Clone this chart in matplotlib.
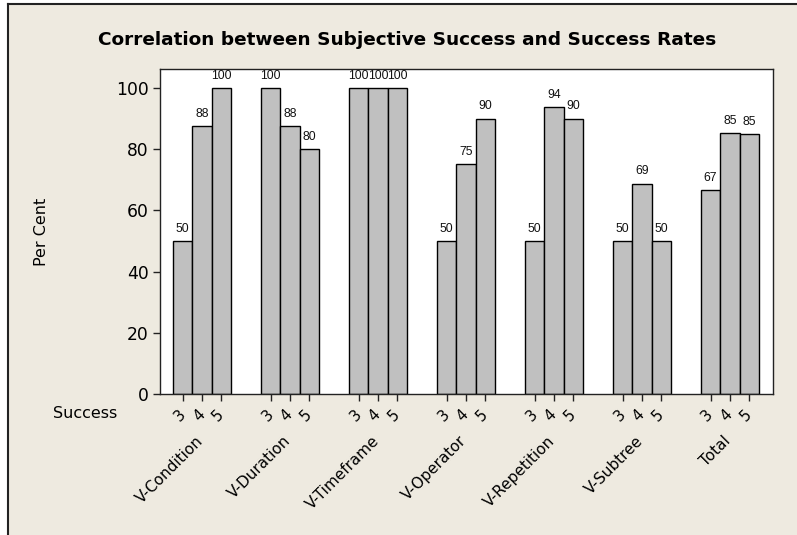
"""
Correlation between Subjective Success and Success Rates (Minitab-style clustered bars)
"""

import matplotlib
matplotlib.use("Agg")
import matplotlib.pyplot as plt
from matplotlib.patches import Rectangle
from matplotlib.lines import Line2D
from matplotlib.transforms import blended_transform_factory, ScaledTranslation

# ─── data ──────────────────────────────────────────────────────────────────
categories = ["V-Condition", "V-Duration", "V-Timeframe", "V-Operator",
              "V-Repetition", "V-Subtree", "Total"]
success_levels = ["3", "4", "5"]
per_cent = [
    [50, 87.5, 100],      # V-Condition
    [100, 87.5, 80],      # V-Duration
    [100, 100, 100],      # V-Timeframe
    [50, 75, 90],         # V-Operator
    [50, 93.75, 90],      # V-Repetition
    [50, 68.75, 50],      # V-Subtree
    [66.7, 85.4, 84.9],   # Total
]
y_ticks = [0, 20, 40, 60, 80, 100]
title = "Correlation between Subjective Success and Success Rates"
# ───────────────────────────────────────────────────────────────────────────

W, H = 797, 535
BEIGE = "#EEEAE0"
BAR = "#C0C0C0"
FONT = "DejaVu Sans"
VALFONT = "Liberation Sans"

fig = plt.figure(figsize=(W / 100, H / 100), dpi=100, facecolor="white")

# beige panel with left/top border
fig.patches.append(Rectangle((8 / W, 0), 1 - 8 / W, 1 - 4 / H,
                             transform=fig.transFigure, facecolor=BEIGE,
                             edgecolor="none", zorder=-5))
fig.lines.append(Line2D([8 / W, 8 / W], [0, 1 - 4 / H], transform=fig.transFigure,
                        color="#222222", lw=1.5, zorder=-4))
fig.lines.append(Line2D([8 / W, 1], [1 - 4 / H, 1 - 4 / H], transform=fig.transFigure,
                        color="#222222", lw=1.5, zorder=-4))

ax_l, ax_r, ax_t, ax_b = 160, 773, 69, 394
ax = fig.add_axes([ax_l / W, 1 - ax_b / H, (ax_r - ax_l) / W, (ax_b - ax_t) / H])
ax.set_zorder(2)
ax.set_facecolor("white")

step = 4.54
xs, heights, tick_labels = [], [], []
for i, vals in enumerate(per_cent):
    for j, v in enumerate(vals):
        xs.append(i * step + (j - 1))
        heights.append(v)
        tick_labels.append(success_levels[j])

ax.bar(xs, heights, width=1.0, color=BAR, edgecolor="black", linewidth=1.0, zorder=2)
for x, v in zip(xs, heights):
    ax.text(x, v + 2.0, f"{v:.0f}", ha="center", va="bottom",
            fontsize=8.8, family=VALFONT, color="#111111")

ax.set_xlim(-2.17, 6 * step + 1.5 + 0.72)
ax.set_ylim(0, 106.2)
ax.set_yticks(y_ticks)
ax.set_yticklabels([str(t) for t in y_ticks], fontsize=12.3, family=FONT)
ax.set_xticks(xs)
ax.set_xticklabels(tick_labels, rotation=45, ha="right", va="top",
                   rotation_mode="anchor", fontsize=10.8, family=FONT)
ax.tick_params(axis="both", direction="out", length=5, width=1, color="#222222")
ax.tick_params(axis="x", pad=4)
ax.tick_params(axis="y", pad=3)
shift = ScaledTranslation(-5 / 100, 0, fig.dpi_scale_trans)
for lab in ax.get_xticklabels():
    lab.set_transform(lab.get_transform() + shift)
for s in ax.spines.values():
    s.set_linewidth(1.0)
    s.set_color("#222222")

# category labels below the level ticks
trans = blended_transform_factory(ax.transData, ax.transAxes)
for i, name in enumerate(categories):
    ax.text(i * step - 0.35, -39 / (ax_b - ax_t), name, transform=trans,
            rotation=45, ha="right", va="top", rotation_mode="anchor",
            fontsize=11, family=FONT)

fig.text(117 / W, 1 - 413 / H, "Success", ha="right", va="center",
         fontsize=11.5, family=FONT)
fig.text(42 / W, 1 - 232 / H, "Per Cent", ha="center", va="center",
         rotation=90, fontsize=11.5, family=FONT)
fig.text(407 / W, 1 - 40 / H, title, ha="center", va="center",
         fontsize=13.3, fontweight="bold", family=FONT)

plt.savefig("out.png", dpi=100, facecolor=fig.get_facecolor())
plt.close()
